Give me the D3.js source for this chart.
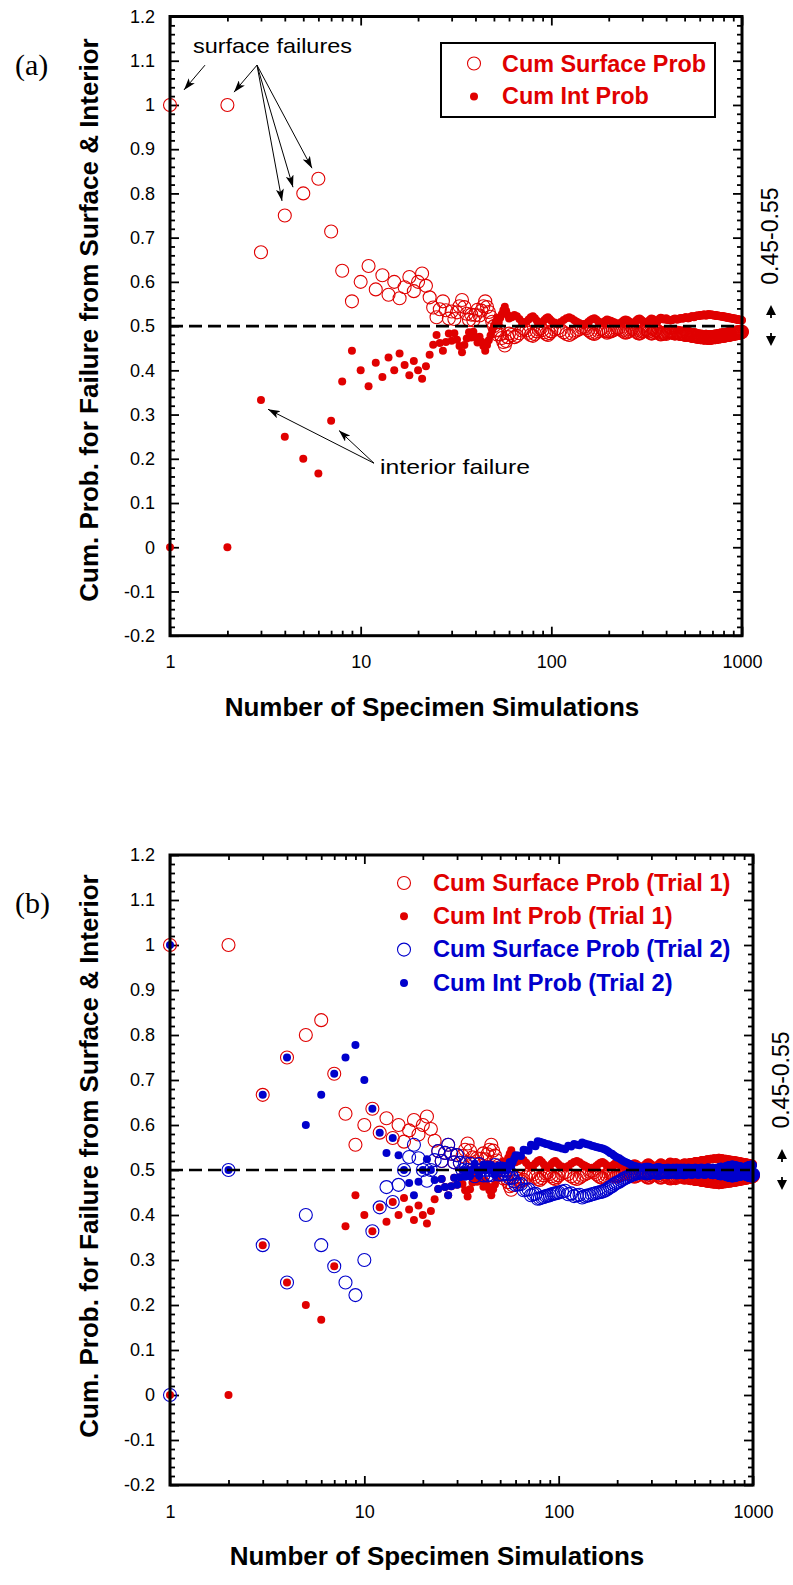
<!DOCTYPE html>
<html>
<head>
<meta charset="utf-8">
<script src="https://cdn.jsdelivr.net/npm/d3@7"></script>
<style>
  html, body { margin: 0; padding: 0; background: #fff; }
  svg { display: block; }
</style>
</head>
<body>
<svg id="fig" width="793" height="1585"></svg>
<script>
// Specimen counts at which the cumulative probabilities are plotted
const specimenCounts = [
  ...d3.range(1, 61),
  ...d3.range(62, 101, 2),
  ...d3.range(104, 201, 4),
  ...d3.range(205, 1001, 5)
];

// Trial 1: cumulative probability of surface failure
const trial1Surface = [
  1, 1, .667, .75, .8, .833, .714, .625, .556, .6, .636, .583, .615, .571, .6, .563, .588, .611, .579, .6, .619, .591, .565, .542, .52,
  .538, .556, .536, .517, .533, .516, .531, .545, .559, .543, .528, .514, .526, .513, .525, .537, .524, .535, .545, .556, .543, .532, .521, .51, .5, .49, .481, .491, .481, .473, .464, .456, .466, .475, .483,
  .48, .475, .478, .484, .49, .494, .49, .485, .48, .478, .482, .488, .492, .495, .491, .486, .482, .48, .484, .488,
  .492, .495, .491, .486, .482, .48, .483, .487, .49, .493, .496, .498, .495, .491, .487, .484, .482, .485, .489, .492, .494, .491, .488, .485, .487,
  .488, .49, .492, .494, .495, .493, .49, .487, .485, .486, .489, .492, .494, .493, .49, .487, .484, .483, .485, .488,
  .49, .492, .493, .491, .488, .485, .483, .484, .487, .49, .491, .489, .486, .483, .481, .482, .484, .485, .484, .482,
  .486, .485, .486, .487, .487, .486, .485, .484, .483, .484, .485, .485, .484, .483, .482, .482, .483, .483, .482, .481,
  .48, .48, .481, .482, .482, .481, .48, .479, .478, .478, .479, .48, .479, .478, .477, .476, .476, .477, .477, .476,
  .475, .475, .476, .476, .475, .474, .474, .475, .476, .476, .475, .474, .473, .473, .474, .475, .475, .474, .474, .475,
  .475, .476, .476, .475, .475, .476, .477, .477, .476, .476, .477, .478, .478, .477, .477, .478, .479, .479, .478, .478,
  .479, .48, .48, .479, .479, .48, .481, .481, .48, .48, .481, .482, .482, .481, .481, .482, .483, .483, .482, .483,
  .484, .484, .483, .483, .484, .485, .485, .484, .484, .485, .486, .486, .485, .485, .486, .487, .487, .486, .486, .487
];

// Trial 1: cumulative probability of interior failure
const trial1Interior = [
  0, 0, .333, .25, .2, .167, .286, .375, .444, .4, .364, .417, .385, .429, .4, .438, .412, .389, .421, .4, .381, .409, .435, .458, .48,
  .462, .444, .464, .483, .467, .484, .469, .455, .441, .457, .472, .486, .474, .487, .475, .463, .476, .465, .455, .444, .457, .468, .479, .49, .5, .51, .519, .509, .519, .527, .536, .544, .534, .525, .517,
  .52, .525, .522, .516, .51, .506, .51, .515, .52, .522, .518, .512, .508, .505, .509, .514, .518, .52, .516, .512,
  .508, .505, .509, .514, .518, .52, .517, .513, .51, .507, .504, .502, .505, .509, .513, .516, .518, .515, .511, .508, .506, .509, .512, .515, .513,
  .512, .51, .508, .506, .505, .507, .51, .513, .515, .514, .511, .508, .506, .507, .51, .513, .516, .517, .515, .512,
  .51, .508, .507, .509, .512, .515, .517, .516, .513, .51, .509, .511, .514, .517, .519, .518, .516, .515, .516, .518,
  .514, .515, .514, .513, .513, .514, .515, .516, .517, .516, .515, .515, .516, .517, .518, .518, .517, .517, .518, .519,
  .52, .52, .519, .518, .518, .519, .52, .521, .522, .522, .521, .52, .521, .522, .523, .524, .524, .523, .523, .524,
  .525, .525, .524, .524, .525, .526, .526, .525, .524, .524, .525, .526, .527, .527, .526, .525, .525, .526, .526, .525,
  .525, .524, .524, .525, .525, .524, .523, .523, .524, .524, .523, .522, .522, .523, .523, .522, .521, .521, .522, .522,
  .521, .52, .52, .521, .521, .52, .519, .519, .52, .52, .519, .518, .518, .519, .519, .518, .517, .517, .518, .517,
  .516, .516, .517, .517, .516, .515, .515, .516, .516, .515, .514, .514, .515, .515, .514, .513, .513, .514, .514, .513
];

// Trial 2: cumulative probability of surface failure
const trial2Surface = [
  0, .5, .333, .25, .4, .333, .286, .25, .222, .3, .364, .417, .462, .429, .467, .5, .529, .556, .526, .5, .476, .5, .522, .542, .52,
  .538, .556, .536, .517, .533, .516, .5, .515, .5, .514, .5, .486, .5, .513, .5, .488, .5, .488, .5, .489, .5, .511, .5, .49, .5, .49, .5, .491, .5, .491, .482, .491, .483, .475, .467,
  .468, .469, .455, .456, .457, .444, .446, .447, .436, .437, .439, .44, .442, .443, .444, .446, .447, .448, .449, .45,
  .452, .454, .446, .448, .442, .444, .445, .439, .441, .443, .444, .446, .447, .449, .45, .451, .452, .454, .456, .459, .462, .464, .467, .47, .472,
  .474, .477, .48, .482, .484, .486, .488, .49, .491, .492, .493, .494, .495, .495, .494, .493, .493, .493, .494, .496,
  .497, .497, .496, .494, .494, .494, .495, .497, .497, .497, .496, .495, .495, .495, .496, .497, .498, .498, .497, .495,
  .495, .495, .496, .498, .498, .498, .497, .495, .495, .496, .497, .498, .498, .498, .497, .496, .496, .497, .497, .498,
  .498, .498, .497, .496, .496, .497, .498, .498, .498, .498, .497, .496, .496, .497, .497, .498, .499, .499, .498, .497,
  .497, .497, .496, .495, .495, .496, .497, .497, .497, .497, .496, .495, .495, .494, .493, .493, .493, .493, .494, .494,
  .494, .494, .493, .492, .492, .492, .491, .49, .49, .49, .49, .489, .489, .489, .489, .488, .488, .489, .489, .489,
  .489, .49, .49, .49, .49, .491, .491, .491, .492, .492, .492, .492, .492, .493, .493, .493, .494, .494, .494, .494,
  .494, .493, .493, .492, .492, .491, .491, .49, .49, .49, .49, .489, .489, .489, .489, .488, .488, .489, .489, .49
];

// Trial 2: cumulative probability of interior failure
const trial2Interior = [
  1, .5, .667, .75, .6, .667, .714, .75, .778, .7, .636, .583, .538, .571, .533, .5, .471, .444, .474, .5, .524, .5, .478, .458, .48,
  .462, .444, .464, .483, .467, .484, .5, .485, .5, .486, .5, .514, .5, .487, .5, .512, .5, .512, .5, .511, .5, .489, .5, .51, .5, .51, .5, .509, .5, .509, .518, .509, .517, .525, .533,
  .532, .531, .545, .544, .543, .556, .554, .553, .564, .563, .561, .56, .558, .557, .556, .554, .553, .552, .551, .55,
  .548, .546, .554, .552, .558, .556, .555, .561, .559, .557, .556, .554, .553, .551, .55, .549, .548, .546, .544, .541, .538, .536, .533, .53, .528,
  .526, .523, .52, .518, .516, .514, .512, .51, .509, .508, .507, .506, .505, .505, .506, .507, .507, .507, .506, .504,
  .503, .503, .504, .506, .506, .506, .505, .503, .503, .503, .504, .505, .505, .505, .504, .503, .502, .502, .503, .505,
  .505, .505, .504, .502, .502, .502, .503, .505, .505, .504, .503, .502, .502, .502, .503, .504, .504, .503, .503, .502,
  .502, .502, .503, .504, .504, .503, .502, .502, .502, .502, .503, .504, .504, .503, .503, .502, .501, .501, .502, .503,
  .503, .503, .504, .505, .505, .504, .503, .503, .503, .503, .504, .505, .505, .506, .507, .507, .507, .507, .506, .506,
  .506, .506, .507, .508, .508, .508, .509, .51, .51, .51, .51, .511, .511, .511, .511, .512, .512, .511, .511, .511,
  .511, .51, .51, .51, .51, .509, .509, .509, .508, .508, .508, .508, .508, .507, .507, .507, .506, .506, .506, .506,
  .506, .507, .507, .508, .508, .509, .509, .51, .51, .51, .51, .511, .511, .511, .511, .512, .512, .511, .511, .51
];

// Axis ticks
const yTickValues = [-0.2, -0.1, 0, 0.1, 0.2, 0.3, 0.4, 0.5, 0.6, 0.7, 0.8, 0.9, 1, 1.1, 1.2];
const xTickValues = [1, 10, 100, 1000];
const xTickLabels = ["1", "10", "100", "1000"];

const RED = "#e00000";
const BLUE = "#0000cc";
const SANS = "'Liberation Sans', Arial, Helvetica, sans-serif";
const SERIF = "'Liberation Serif', 'Times New Roman', serif";

const svg = d3.select("#fig");

svg.append("defs").append("marker")
  .attr("id", "arrowhead")
  .attr("viewBox", "0 0 12 8")
  .attr("refX", 12).attr("refY", 4)
  .attr("markerWidth", 12).attr("markerHeight", 8)
  .attr("markerUnits", "userSpaceOnUse")
  .attr("orient", "auto")
  .append("path")
  .attr("d", "M0,0 L12,4 L0,8 L3,4 Z")
  .attr("fill", "#000");

function drawPanel(cfg) {
  const g = svg.append("g");
  const x = d3.scaleLog().domain([1, 1000]).range([cfg.left, cfg.right]);
  const y = d3.scaleLinear().domain([-0.2, 1.2]).range([cfg.bottom, cfg.top]);

  const yMinor = d3.range(-10, 61).map(i => +(i * 0.02).toFixed(2))
    .filter(v => Math.abs(v * 10 - Math.round(v * 10)) > 1e-6);
  const xMinor = [];
  [1, 10, 100].forEach(d => { for (let k = 2; k <= 9; k++) xMinor.push(d * k); });

  function styleAxis(sel) {
    sel.select(".domain").remove();
    sel.selectAll(".tick line").attr("stroke", "#000").attr("stroke-width", 1.8);
    sel.selectAll("text").attr("font-family", SANS).attr("font-size", 18).attr("fill", "#000");
  }

  // Left axis: labelled majors and unlabelled minors, ticks pointing inward
  g.append("g").attr("transform", `translate(${cfg.left},0)`)
    .call(d3.axisLeft(y).tickValues(yTickValues).tickSize(-9).tickSizeOuter(0).tickPadding(15)
      .tickFormat(d => String(+d.toFixed(1))))
    .call(styleAxis);
  g.append("g").attr("transform", `translate(${cfg.left},0)`)
    .call(d3.axisLeft(y).tickValues(yMinor).tickSize(-5).tickSizeOuter(0).tickFormat(""))
    .call(styleAxis);
  // Right axis
  g.append("g").attr("transform", `translate(${cfg.right},0)`)
    .call(d3.axisRight(y).tickValues(yTickValues).tickSize(-9).tickSizeOuter(0).tickFormat(""))
    .call(styleAxis);
  g.append("g").attr("transform", `translate(${cfg.right},0)`)
    .call(d3.axisRight(y).tickValues(yMinor).tickSize(-5).tickSizeOuter(0).tickFormat(""))
    .call(styleAxis);
  // Bottom axis
  g.append("g").attr("transform", `translate(0,${cfg.bottom})`)
    .call(d3.axisBottom(x).tickValues(xTickValues).tickSize(-9).tickSizeOuter(0).tickPadding(20)
      .tickFormat((d, i) => xTickLabels[i]))
    .call(styleAxis);
  g.append("g").attr("transform", `translate(0,${cfg.bottom})`)
    .call(d3.axisBottom(x).tickValues(xMinor).tickSize(-5).tickSizeOuter(0).tickFormat(""))
    .call(styleAxis);
  // Top axis
  g.append("g").attr("transform", `translate(0,${cfg.top})`)
    .call(d3.axisTop(x).tickValues(xTickValues).tickSize(-9).tickSizeOuter(0).tickFormat(""))
    .call(styleAxis);
  g.append("g").attr("transform", `translate(0,${cfg.top})`)
    .call(d3.axisTop(x).tickValues(xMinor).tickSize(-5).tickSizeOuter(0).tickFormat(""))
    .call(styleAxis);

  // Markers
  cfg.series.forEach(s => {
    const pts = specimenCounts.map((n, i) => [n, s.values[i]]);
    const sel = g.append("g").selectAll("circle").data(pts).join("circle")
      .attr("cx", d => x(d[0])).attr("cy", d => y(d[1]));
    if (s.open) {
      sel.attr("r", 6.5).attr("fill", "none").attr("stroke", s.color).attr("stroke-width", 1.1);
    } else {
      sel.attr("r", 4).attr("fill", s.color);
    }
  });

  // Reference line at 0.5
  g.append("line")
    .attr("x1", cfg.left).attr("x2", cfg.right - 3)
    .attr("y1", y(0.5)).attr("y2", y(0.5))
    .attr("stroke", "#000").attr("stroke-width", 2.6)
    .attr("stroke-dasharray", "13,6");

  // Frame
  g.append("rect")
    .attr("x", cfg.left).attr("y", cfg.top)
    .attr("width", cfg.right - cfg.left).attr("height", cfg.bottom - cfg.top)
    .attr("fill", "none").attr("stroke", "#000").attr("stroke-width", 3);

  // Axis titles
  g.append("text")
    .attr("x", cfg.xTitleX).attr("y", cfg.bottom + 80)
    .attr("text-anchor", "middle")
    .attr("font-family", SANS).attr("font-weight", "bold").attr("font-size", 26)
    .text("Number of Specimen Simulations");
  g.append("text")
    .attr("transform", `translate(98,${cfg.yTitleY}) rotate(-90)`)
    .attr("text-anchor", "middle")
    .attr("font-family", SANS).attr("font-weight", "bold").attr("font-size", 26)
    .text("Cum. Prob. for Failure from Surface & Interior");

  // Panel letter
  g.append("text")
    .attr("x", 15).attr("y", cfg.top + 58)
    .attr("font-family", SERIF).attr("font-size", 30)
    .text(cfg.letter);

  // Band note on the right: 0.45-0.55 with up/down arrowheads
  const y5 = y(0.5);
  const ax = cfg.right + 29;
  g.append("text")
    .attr("transform", `translate(${cfg.right + 36},${y5 - 90}) rotate(-90)`)
    .attr("text-anchor", "middle")
    .attr("font-family", SANS).attr("font-size", 23)
    .text("0.45-0.55");
  g.append("path")
    .attr("d", `M${ax},${y5 - 21} L${ax - 5},${y5 - 11} L${ax + 5},${y5 - 11} Z M${ax - 0.9},${y5 - 11} h1.8 v3 h-1.8 Z`)
    .attr("fill", "#000");
  g.append("path")
    .attr("d", `M${ax},${y5 + 20} L${ax - 5},${y5 + 10} L${ax + 5},${y5 + 10} Z M${ax - 0.9},${y5 + 10} h1.8 v-3 h-1.8 Z`)
    .attr("fill", "#000");

  return { x, y, g };
}

// ---------- Panel (a) ----------
const pa = drawPanel({
  left: 170, right: 742, top: 16.5, bottom: 635.7,
  letter: "(a)", xTitleX: 432, yTitleY: 320,
  series: [
    { values: trial1Surface, color: RED, open: true },
    { values: trial1Interior, color: RED, open: false }
  ]
});

// Legend (a) with frame
(function () {
  const lg = pa.g.append("g");
  lg.append("rect").attr("x", 441).attr("y", 43).attr("width", 274).attr("height", 74)
    .attr("fill", "#fff").attr("stroke", "#000").attr("stroke-width", 2);
  lg.append("circle").attr("cx", 474).attr("cy", 63.5).attr("r", 6.5)
    .attr("fill", "none").attr("stroke", RED).attr("stroke-width", 1.1);
  lg.append("circle").attr("cx", 474).attr("cy", 96.5).attr("r", 4).attr("fill", RED);
  lg.append("text").attr("x", 502).attr("y", 71.7)
    .attr("font-family", SANS).attr("font-weight", "bold").attr("font-size", 23.4).attr("fill", RED)
    .text("Cum Surface Prob");
  lg.append("text").attr("x", 502).attr("y", 104)
    .attr("font-family", SANS).attr("font-weight", "bold").attr("font-size", 23.4).attr("fill", RED)
    .text("Cum Int Prob");
})();

// Annotations (a), anchored in data coordinates
const surfaceNote = { text: "surface failures", at: [1.32, 1.118], width: 159 };
const surfaceArrows = [
  { from: [1.526, 1.090], to: [1.184, 1.034] },
  { from: [2.859, 1.090], to: [2.166, 1.029] },
  { from: [2.859, 1.090], to: [3.868, 0.783] },
  { from: [2.859, 1.090], to: [4.417, 0.814] },
  { from: [2.859, 1.090], to: [5.556, 0.857] }
];
const interiorNote = { text: "interior failure", at: [12.63, 0.165], width: 150 };
const interiorArrows = [
  { from: [11.75, 0.190], to: [3.266, 0.312] },
  { from: [11.75, 0.190], to: [7.695, 0.264] }
];

[surfaceNote, interiorNote].forEach(n => {
  pa.g.append("text")
    .attr("x", pa.x(n.at[0])).attr("y", pa.y(n.at[1]))
    .attr("font-family", SANS).attr("font-size", 21)
    .attr("textLength", n.width).attr("lengthAdjust", "spacingAndGlyphs")
    .text(n.text);
});
[...surfaceArrows, ...interiorArrows].forEach(a => {
  pa.g.append("line")
    .attr("x1", pa.x(a.from[0])).attr("y1", pa.y(a.from[1]))
    .attr("x2", pa.x(a.to[0])).attr("y2", pa.y(a.to[1]))
    .attr("stroke", "#000").attr("stroke-width", 1)
    .attr("marker-end", "url(#arrowhead)");
});

// ---------- Panel (b) ----------
const pb = drawPanel({
  left: 170, right: 753, top: 855, bottom: 1485,
  letter: "(b)", xTitleX: 437, yTitleY: 1156,
  series: [
    { values: trial1Surface, color: RED, open: true },
    { values: trial1Interior, color: RED, open: false },
    { values: trial2Surface, color: BLUE, open: true },
    { values: trial2Interior, color: BLUE, open: false }
  ]
});

// Legend (b), no frame
const legendB = [
  { label: "Cum Surface Prob (Trial 1)", color: RED, open: true },
  { label: "Cum Int Prob (Trial 1)", color: RED, open: false },
  { label: "Cum Surface Prob (Trial 2)", color: BLUE, open: true },
  { label: "Cum Int Prob (Trial 2)", color: BLUE, open: false }
];
legendB.forEach((d, i) => {
  const cy = 883 + i * 33.3;
  if (d.open) {
    pb.g.append("circle").attr("cx", 404).attr("cy", cy).attr("r", 6.5)
      .attr("fill", "none").attr("stroke", d.color).attr("stroke-width", 1.1);
  } else {
    pb.g.append("circle").attr("cx", 404).attr("cy", cy).attr("r", 4).attr("fill", d.color);
  }
  pb.g.append("text").attr("x", 433).attr("y", cy + 7.8)
    .attr("font-family", SANS).attr("font-weight", "bold").attr("font-size", 23.7).attr("fill", d.color)
    .text(d.label);
});
</script>
</body>
</html>
